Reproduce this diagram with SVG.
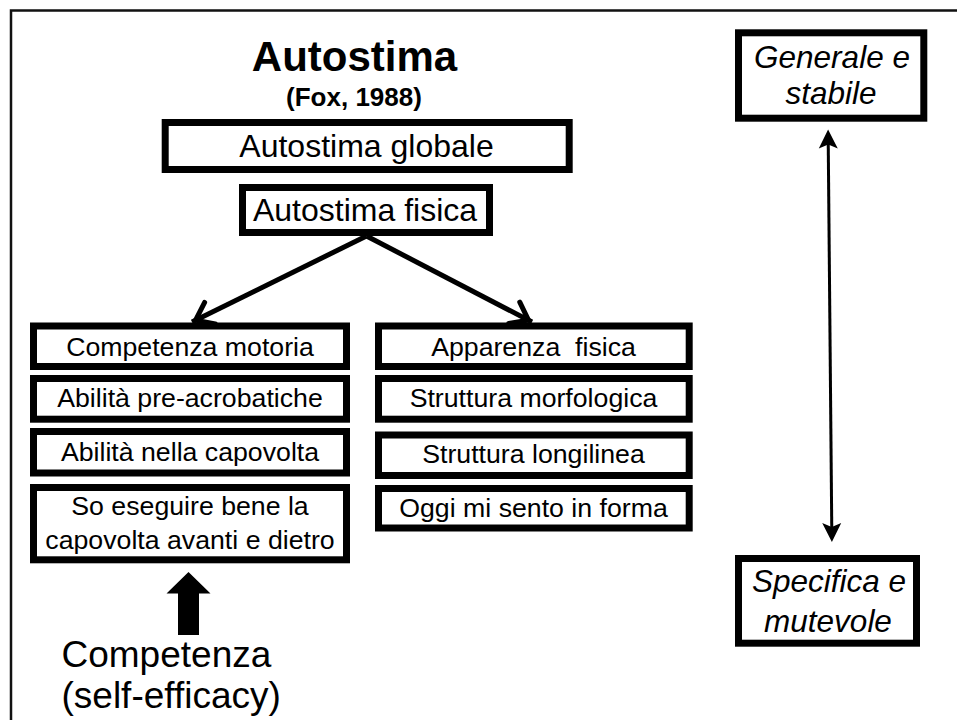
<svg xmlns="http://www.w3.org/2000/svg" width="957" height="720" viewBox="0 0 957 720">
  <style>
    text { font-family: "Liberation Sans", Arial, sans-serif; fill: #000; text-anchor: middle; }
    .box { fill: #fff; stroke: #000; stroke-width: 7; }
    .lbl { font-size: 26.7px; }
    .big { font-size: 32px; }
    .side { font-size: 31.5px; font-style: italic; }
    .frame { fill: none; stroke: #111; stroke-width: 2.5; }
  </style>
  <defs>
    <marker id="openHead" viewBox="-26 -16 32 32" refX="0" refY="0" markerWidth="32" markerHeight="32" markerUnits="userSpaceOnUse" orient="auto" overflow="visible">
      <path d="M-20,-12 L-4,0 L-20,12" fill="none" stroke="#000" stroke-width="5" stroke-linejoin="miter" stroke-linecap="round"/>
    </marker>
    <marker id="solidHead" viewBox="-12 -12 24 24" refX="0" refY="0" markerWidth="24" markerHeight="24" markerUnits="userSpaceOnUse" orient="auto-start-reverse" overflow="visible">
      <path d="M10,0 L-9,-9.5 L-5,0 L-9,9.5 Z" fill="#000"/>
    </marker>
  </defs>

  <!-- outer frame -->
  <path class="frame" d="M11,720 V10.5 H957"/>

  <!-- title -->
  <g id="title">
    <text x="354.5" y="71" font-size="42" font-weight="bold">Autostima</text>
    <text x="354" y="106" font-size="26" font-weight="bold">(Fox, 1988)</text>
  </g>

  <g id="globale">
    <rect class="box" x="165.2" y="122.5" width="404" height="47"/>
    <text class="big" x="366.5" y="157">Autostima globale</text>
  </g>

  <g id="fisica">
    <rect class="box" x="242.5" y="187.5" width="247" height="45"/>
    <text class="big" x="365" y="221">Autostima fisica</text>
  </g>

  <!-- left column -->
  <g id="competenza-motoria">
    <rect class="box" x="33.5" y="326" width="313" height="40.5"/>
    <text class="lbl" x="190" y="356">Competenza motoria</text>
  </g>
  <g id="abilita-pre">
    <rect class="box" x="33.5" y="378.5" width="313" height="40.7"/>
    <text class="lbl" x="190" y="407">Abilità pre-acrobatiche</text>
  </g>
  <g id="abilita-capovolta">
    <rect class="box" x="33.5" y="431.5" width="313" height="41.5"/>
    <text class="lbl" x="190" y="461">Abilità nella capovolta</text>
  </g>
  <g id="so-eseguire">
    <rect class="box" x="33.5" y="487.5" width="313" height="72.3"/>
    <text class="lbl" x="190" y="515">So eseguire bene la</text>
    <text class="lbl" x="190" y="549">capovolta avanti e dietro</text>
  </g>

  <!-- right column -->
  <g id="apparenza">
    <rect class="box" x="378.5" y="326" width="310.7" height="40.5"/>
    <text class="lbl" x="533.5" y="356" xml:space="preserve">Apparenza  fisica</text>
  </g>
  <g id="morfologica">
    <rect class="box" x="378.5" y="378.5" width="310.7" height="40.7"/>
    <text class="lbl" x="533.5" y="407">Struttura morfologica</text>
  </g>
  <g id="longilinea">
    <rect class="box" x="378.5" y="435" width="310.7" height="40.5"/>
    <text class="lbl" x="533.5" y="463">Struttura longilinea</text>
  </g>
  <g id="in-forma">
    <rect class="box" x="378.5" y="488.5" width="310.7" height="39.5"/>
    <text class="lbl" x="533.5" y="517">Oggi mi sento in forma</text>
  </g>

  <!-- scale ends -->
  <g id="generale">
    <rect class="box" x="738.5" y="32.8" width="185.3" height="85.4"/>
    <text class="side" x="832" y="68.3">Generale e</text>
    <text class="side" x="831" y="104">stabile</text>
  </g>
  <g id="specifica">
    <rect class="box" x="738.5" y="558.5" width="178" height="84.7"/>
    <text class="side" x="829" y="591.5">Specifica e</text>
    <text class="side" x="828" y="631.5">mutevole</text>
  </g>

  <!-- competenza label -->
  <g id="competenza">
    <polygon points="188.5,572 210.5,593.5 199,593.5 199,635 178,635 178,593.5 166.5,593.5" fill="#000"/>
    <text x="61.5" y="667" font-size="37" style="text-anchor:start">Competenza</text>
    <text x="61.5" y="708" font-size="37" style="text-anchor:start">(self-efficacy)</text>
  </g>

  <!-- connectors -->
  <g id="connectors" fill="none" stroke="#000">
    <line x1="366.5" y1="236" x2="192" y2="322" stroke-width="5" marker-end="url(#openHead)"/>
    <line x1="366.5" y1="236" x2="532" y2="322" stroke-width="5" marker-end="url(#openHead)"/>
    <line x1="828.2" y1="139.5" x2="831.8" y2="532" stroke-width="3" marker-start="url(#solidHead)" marker-end="url(#solidHead)"/>
  </g>
</svg>
